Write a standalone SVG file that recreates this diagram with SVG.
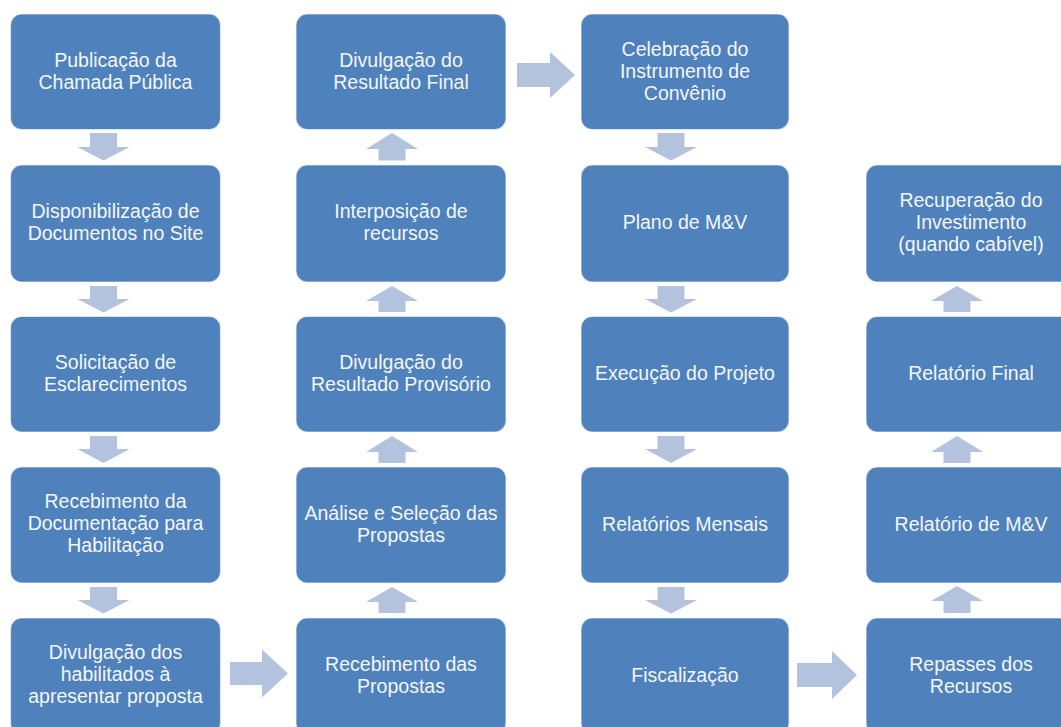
<svg xmlns="http://www.w3.org/2000/svg" width="1061" height="727" viewBox="0 0 1061 727">
<style>
.box{fill:#4F81BD;stroke:#FFFFFF;stroke-opacity:0.6;stroke-width:1.2}
.arr{fill:#B3C2DD}
text{font-family:"Liberation Sans",Arial,sans-serif;font-size:19.5px;fill:#F4F7FB;text-anchor:middle}
</style>
<rect width="1061" height="727" fill="#FFFFFF"/>
<g id="connectors">
<path class="arr" d="M90,133H117V147H129.5L103.5,160.5L77.5,147H90Z"/>
<path class="arr" d="M90,286H117V299H129.5L103.5,312.5L77.5,299H90Z"/>
<path class="arr" d="M90,436H117V449H129.5L103.5,463L77.5,449H90Z"/>
<path class="arr" d="M90,587H117V600H129.5L103.5,613.5L77.5,600H90Z"/>
<path class="arr" d="M230,662H262V649.5L288,673.5L262,697.5V685H230Z"/>
<path class="arr" d="M378.5,613H405.5V602H418L392,587L366,602H378.5Z"/>
<path class="arr" d="M378.5,463H405.5V452H418L392,436L366,452H378.5Z"/>
<path class="arr" d="M378.5,312H405.5V301H418L392,286L366,301H378.5Z"/>
<path class="arr" d="M378.5,160.5H405.5V149H418L392,133L366,149H378.5Z"/>
<path class="arr" d="M517,63H550V52L575,75L550,98V87H517Z"/>
<path class="arr" d="M657.5,133H684.5V147H697L671,160.5L645,147H657.5Z"/>
<path class="arr" d="M657.5,286H684.5V299H697L671,312.5L645,299H657.5Z"/>
<path class="arr" d="M657.5,436H684.5V449H697L671,463L645,449H657.5Z"/>
<path class="arr" d="M657.5,587H684.5V600H697L671,613.5L645,600H657.5Z"/>
<path class="arr" d="M797,663H832V651L857,675L832,699V687H797Z"/>
<path class="arr" d="M943.5,613H970.5V601H983L957,586L931,601H943.5Z"/>
<path class="arr" d="M943.5,463H970.5V452H983L957,436L931,452H943.5Z"/>
<path class="arr" d="M943.5,312H970.5V301H983L957,286L931,301H943.5Z"/>
</g>
<g id="n1"><rect class="box" x="10.5" y="14" width="210" height="115.5" rx="11"/><text x="115.5" y="66.5">Publicação da</text><text x="115.5" y="88.5">Chamada Pública</text></g>
<g id="n2"><rect class="box" x="10.5" y="165" width="210" height="117" rx="11"/><text x="115.5" y="218">Disponibilização de</text><text x="115.5" y="240">Documentos no Site</text></g>
<g id="n3"><rect class="box" x="10.5" y="316.5" width="210" height="115.5" rx="11"/><text x="115.5" y="369">Solicitação de</text><text x="115.5" y="391">Esclarecimentos</text></g>
<g id="n4"><rect class="box" x="10.5" y="467" width="210" height="116" rx="11"/><text x="115.5" y="508">Recebimento da</text><text x="115.5" y="530">Documentação para</text><text x="115.5" y="552">Habilitação</text></g>
<g id="n5"><rect class="box" x="10.5" y="618" width="210" height="116" rx="11"/><text x="115.5" y="659">Divulgação dos</text><text x="115.5" y="681">habilitados à</text><text x="115.5" y="703">apresentar proposta</text></g>
<g id="n6"><rect class="box" x="296" y="618" width="210" height="116" rx="11"/><text x="401" y="670.5">Recebimento das</text><text x="401" y="692.5">Propostas</text></g>
<g id="n7"><rect class="box" x="296" y="467" width="210" height="116" rx="11"/><text x="401" y="519.5">Análise e Seleção das</text><text x="401" y="541.5">Propostas</text></g>
<g id="n8"><rect class="box" x="296" y="316.5" width="210" height="115.5" rx="11"/><text x="401" y="369">Divulgação do</text><text x="401" y="391">Resultado Provisório</text></g>
<g id="n9"><rect class="box" x="296" y="165" width="210" height="117" rx="11"/><text x="401" y="218">Interposição de</text><text x="401" y="240">recursos</text></g>
<g id="n10"><rect class="box" x="296" y="14" width="210" height="115.5" rx="11"/><text x="401" y="66.5">Divulgação do</text><text x="401" y="88.5">Resultado Final</text></g>
<g id="n11"><rect class="box" x="581" y="14" width="208" height="115.5" rx="11"/><text x="685" y="55.5">Celebração do</text><text x="685" y="77.5">Instrumento de</text><text x="685" y="99.5">Convênio</text></g>
<g id="n12"><rect class="box" x="581" y="165" width="208" height="117" rx="11"/><text x="685" y="229">Plano de M&amp;V</text></g>
<g id="n13"><rect class="box" x="581" y="316.5" width="208" height="115.5" rx="11"/><text x="685" y="380">Execução do Projeto</text></g>
<g id="n14"><rect class="box" x="581" y="467" width="208" height="116" rx="11"/><text x="685" y="530.5">Relatórios Mensais</text></g>
<g id="n15"><rect class="box" x="581" y="618" width="208" height="116" rx="11"/><text x="685" y="681.5">Fiscalização</text></g>
<g id="n16"><rect class="box" x="866" y="618" width="210" height="116" rx="11"/><text x="971" y="670.5">Repasses dos</text><text x="971" y="692.5">Recursos</text></g>
<g id="n17"><rect class="box" x="866" y="467" width="210" height="116" rx="11"/><text x="971" y="530.5">Relatório de M&amp;V</text></g>
<g id="n18"><rect class="box" x="866" y="316.5" width="210" height="115.5" rx="11"/><text x="971" y="380">Relatório Final</text></g>
<g id="n19"><rect class="box" x="866" y="165" width="210" height="117" rx="11"/><text x="971" y="207">Recuperação do</text><text x="971" y="229">Investimento</text><text x="971" y="251">(quando cabível)</text></g>
</svg>
